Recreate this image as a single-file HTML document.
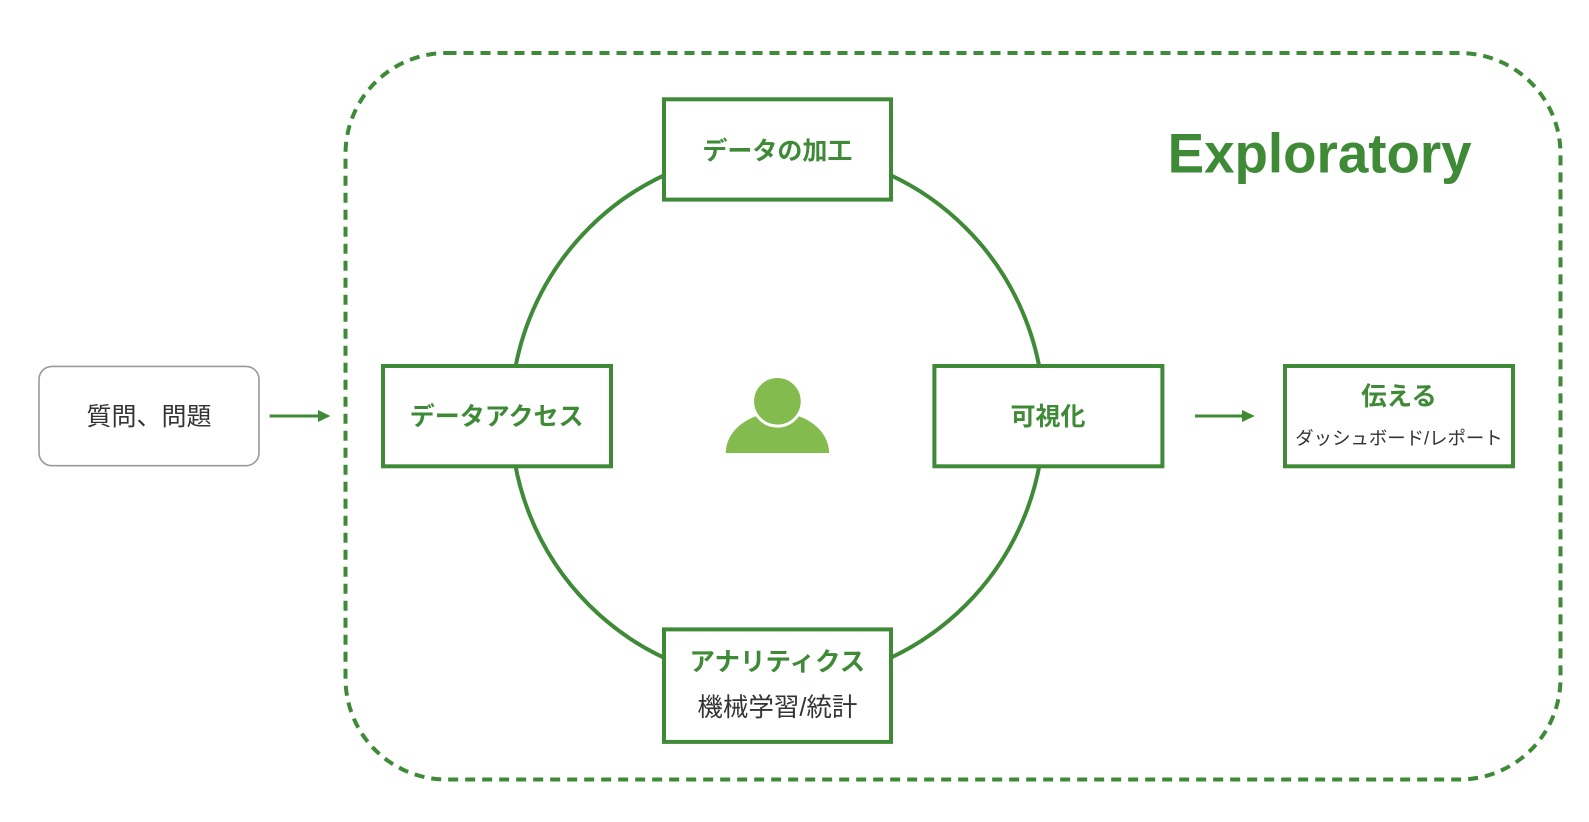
<!DOCTYPE html>
<html>
<head>
<meta charset="utf-8">
<style>
  html, body { margin: 0; padding: 0; background: #fff; }
  body { width: 1589px; height: 822px; overflow: hidden; }
  svg { display: block; }
  .jp { font-family: "Liberation Sans", "Noto Sans CJK JP", sans-serif; }
</style>
</head>
<body>
<svg width="1589" height="822" viewBox="0 0 1589 822" xmlns="http://www.w3.org/2000/svg">
  <!-- dashed container -->
  <rect x="345.5" y="53" width="1215" height="726.5" rx="101" ry="101" fill="none" stroke="#3e8a37" stroke-width="4" stroke-dasharray="10 7"/>

  <!-- circle -->
  <circle cx="777.4" cy="416.5" r="266.5" fill="none" stroke="#3e8a37" stroke-width="4"/>

  <!-- boxes -->
  <rect x="664" y="99.3" width="227" height="100.3" fill="#fff" stroke="#3e8a37" stroke-width="4"/>
  <rect x="383" y="366" width="228" height="100.3" fill="#fff" stroke="#3e8a37" stroke-width="4"/>
  <rect x="934.4" y="366" width="228" height="100.3" fill="#fff" stroke="#3e8a37" stroke-width="4"/>
  <rect x="664" y="629.4" width="227" height="112.5" fill="#fff" stroke="#3e8a37" stroke-width="4"/>
  <rect x="1285" y="366" width="228" height="100.3" fill="#fff" stroke="#3e8a37" stroke-width="4"/>

  <!-- input box -->
  <rect x="39" y="366.4" width="220" height="99.3" rx="13" ry="13" fill="#fff" stroke="#999" stroke-width="1.6"/>

  <!-- arrows -->
  <line x1="269.6" y1="416" x2="320" y2="416" stroke="#3e8a37" stroke-width="3"/>
  <polygon points="318,410 330.4,416 318,422" fill="#3e8a37"/>
  <line x1="1195" y1="416" x2="1244" y2="416" stroke="#3e8a37" stroke-width="3"/>
  <polygon points="1242,410 1254.7,416 1242,422" fill="#3e8a37"/>

  <!-- person -->
  <path d="M725.7,453 A51.7,40.5 0 0 1 829.1,453 Z" fill="#84bb4f"/>
  <circle cx="777.4" cy="401.3" r="24.8" fill="#84bb4f" stroke="#fff" stroke-width="3"/>

  <!-- texts -->
  <text x="1319.6" y="172.3" text-anchor="middle" font-family="Liberation Sans, Arial, sans-serif" font-weight="bold" font-size="56" fill="#3e8a37" textLength="304" lengthAdjust="spacingAndGlyphs">Exploratory</text>

  <g class="jp" font-weight="bold" font-size="25" fill="#3e8a37" text-anchor="middle">
    <text x="777.4" y="159.5">データの加工</text>
    <text x="496.6" y="425">データアクセス</text>
    <text x="1048" y="425">可視化</text>
    <text x="1399" y="405" font-size="25.5">伝える</text>
    <text x="777.4" y="670.5" font-size="25.5">アナリティクス</text>
  </g>

  <g class="jp" font-size="25" fill="#333" text-anchor="middle">
    <text x="149" y="425">質問、問題</text>
    <text x="777.4" y="716" font-size="25.5">機械学習/統計</text>
  </g>
  <text class="jp" x="1399" y="444.5" font-size="18.4" fill="#333" text-anchor="middle">ダッシュボード/レポート</text>
</svg>
</body>
</html>
